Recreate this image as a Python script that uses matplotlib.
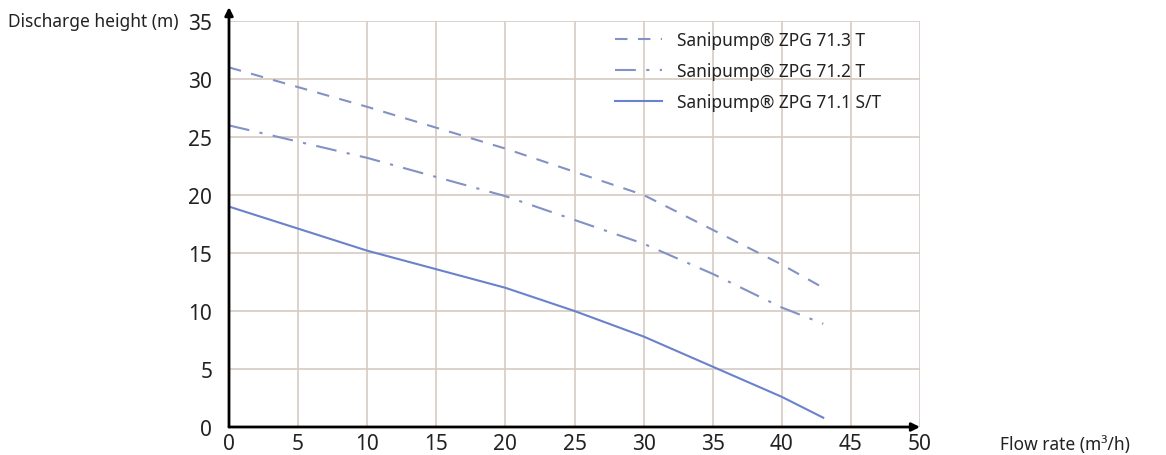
import matplotlib
matplotlib.use("Agg")
import matplotlib.pyplot as plt

plt.rcParams['font.family'] = ['Noto Sans', 'DejaVu Sans']

flow_713 = [0, 10, 20, 25, 30, 35, 40, 43]
head_713 = [31.0, 27.6, 24.0, 22.0, 20.0, 17.0, 14.0, 12.0]
flow_712 = [0, 10, 20, 30, 35, 40, 43]
head_712 = [26.0, 23.2, 19.9, 15.8, 13.2, 10.3, 8.9]
flow_711 = [0, 10, 15, 20, 25, 30, 35, 40, 43]
head_711 = [19.0, 15.2, 13.6, 12.0, 10.0, 7.8, 5.2, 2.6, 0.8]
labels = ["Sanipump® ZPG 71.3 T", "Sanipump® ZPG 71.2 T", "Sanipump® ZPG 71.1 S/T"]
xticks = [0, 5, 10, 15, 20, 25, 30, 35, 40, 45, 50]
yticks = [0, 5, 10, 15, 20, 25, 30, 35]

W, H = 1166, 456
fig = plt.figure(figsize=(W/100, H/100), dpi=100)
ax = fig.add_axes([229/W, (H-428)/H, 691/W, 406/H])

c_dash = '#8391c4'
c_solid = '#6a82cc'
ax.plot(flow_713, head_713, color=c_dash, lw=1.5, dashes=(6, 5), label=labels[0])
ax.plot(flow_712, head_712, color=c_dash, lw=1.5, dashes=(10, 5, 1.5, 5), label=labels[1])
ax.plot(flow_711, head_711, color=c_solid, lw=1.5, label=labels[2])

ax.set_xlim(0, 50)
ax.set_ylim(0, 35)
ax.set_xticks(xticks)
ax.set_yticks(yticks)
ax.grid(True, color='#d6cbc4', lw=1.2)
ax.set_axisbelow(True)
for s in ax.spines.values():
    s.set_visible(False)
ax.tick_params(length=0, labelsize=15, colors='#222222', pad=12)
ax.tick_params(axis='x', pad=4)

ax.annotate('', xy=(0, 36.2), xytext=(0, 0), xycoords='data',
            arrowprops=dict(arrowstyle='-|>', lw=2, color='black', mutation_scale=12,
                            shrinkA=0, shrinkB=0), annotation_clip=False)
ax.annotate('', xy=(50, 0), xytext=(0, 0), xycoords='data',
            arrowprops=dict(arrowstyle='-|>', lw=2, color='black', mutation_scale=12,
                            shrinkA=0, shrinkB=0), annotation_clip=False)

fig.text(8/W, 1-22/H, "Discharge height (m)", fontsize=12.5, va='center', ha='left', color='#222222')
fig.text(1000/W, 1-445/H, "Flow rate (m³/h)", fontsize=12.5, va='center', ha='left', color='#222222')

leg = ax.legend(loc='upper left', bbox_to_anchor=(608/W, 1-25/H), bbox_transform=fig.transFigure,
                frameon=False, fontsize=12.5, handlelength=2.7, handletextpad=0.9,
                labelspacing=0.75, borderaxespad=0)
for t in leg.get_texts():
    t.set_color('#222222')

fig.savefig('out.png', dpi=100)
